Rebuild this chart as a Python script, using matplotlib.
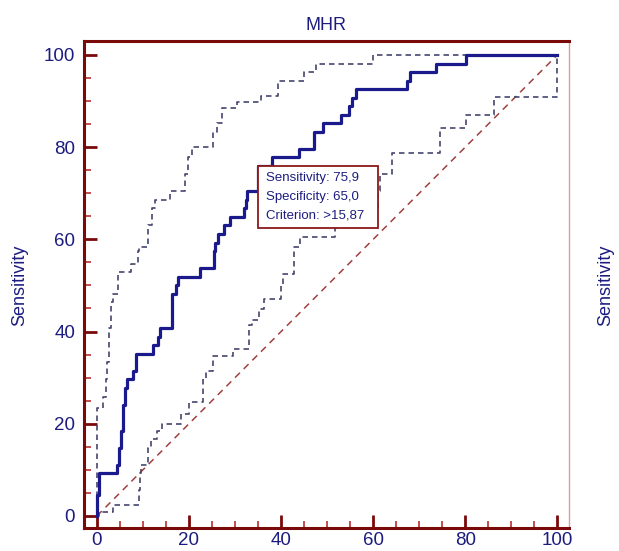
import matplotlib
matplotlib.use("Agg")
import matplotlib.pyplot as plt
from matplotlib.patches import Rectangle
from matplotlib.transforms import ScaledTranslation
from matplotlib.ticker import MultipleLocator

# ROC curve: 100-Specificity (x) vs Sensitivity (y), corner points of the staircase
roc_x = [0, 0, 0.5, 4.3, 4.8, 5.3, 5.7, 6.1, 6.6, 7.9, 8.4, 12.2, 13.3, 13.7, 16.4,
         17.1, 17.7, 22.5, 25.4, 25.7, 26.2, 27.6, 28.8, 32.0, 32.4, 32.7, 35.0,
         38.0, 43.8, 47.2, 49.1, 53.0, 54.8, 55.3, 56.3, 67.3, 67.9, 73.6, 80.1, 100]
roc_y = [0, 4.6, 9.3, 11.1, 14.8, 18.5, 24.1, 27.8, 29.6, 31.5, 35.2, 37.0, 38.9, 40.7, 48.1,
         50.0, 51.9, 53.7, 57.4, 59.3, 61.1, 63.0, 64.8, 66.7, 68.5, 70.4, 75.9,
         77.8, 79.6, 83.3, 85.2, 87.0, 88.9, 90.7, 92.6, 94.4, 96.3, 98.1, 100, 100]

# upper 95% confidence bound
upper_x = [0, 0, 1.4, 1.9, 2.3, 2.6, 3.0, 3.6, 4.6, 7.5, 8.9, 9.2, 11.2, 11.9, 12.6,
           15.9, 19.1, 19.8, 20.6, 25.2, 26.0, 27.2, 30.4, 35.6, 39.3, 44.9, 47.5, 60.0, 100]
upper_y = [0, 23.4, 25.9, 29.6, 33.3, 40.7, 46.3, 48.1, 52.8, 54.6, 57.4, 58.3, 63.0, 66.7, 68.5,
           70.4, 74.1, 77.8, 80.0, 83.3, 85.2, 88.4, 89.8, 91.1, 94.4, 96.3, 98.1, 100, 100]

# lower 95% confidence bound
lower_x = [0, 0.5, 3.4, 9.1, 9.3, 9.6, 11.1, 11.8, 13.0, 14.1, 18.2, 19.9, 23.1, 23.6, 25.2,
           29.6, 33.1, 33.6, 35.1, 36.2, 39.9, 40.5, 42.8, 44.1, 51.6, 52.5, 56.5, 61.0, 61.5,
           64.0, 74.6, 80.1, 86.2, 100]
lower_y = [0, 0.9, 2.4, 5.6, 9.3, 11.1, 14.8, 16.7, 18.5, 20.0, 22.2, 24.8, 29.6, 31.5, 34.6,
           36.2, 41.4, 42.6, 44.9, 47.1, 50.0, 52.5, 58.4, 60.5, 62.4, 64.8, 66.7, 70.4, 74.1,
           78.8, 84.1, 87.0, 90.8, 100]

diag_x = [0, 100]
diag_y = [0, 100]

sensitivity = 75.9
specificity = 65.0
criterion = ">15,87"

navy = "#1c1c80"
frame_red = "#7a0a0a"

plt.rcParams['font.family'] = ['Liberation Sans', 'DejaVu Sans']

fig = plt.figure(figsize=(6.19, 5.51), dpi=100)
ax = fig.add_axes([83.5 / 619, 1 - 527.5 / 551, (569 - 83.5) / 619, (527.5 - 41) / 551])

ax.plot(diag_x, diag_y, color="#a04040", lw=1.1, dashes=(4.5, 3.5), zorder=2)
ax.step(upper_x, upper_y, where='post', color="#45456e", lw=1.2, dashes=(3.3, 2.4), zorder=3)
ax.step(lower_x, lower_y, where='post', color="#45456e", lw=1.2, dashes=(3.3, 2.4), zorder=3)
ax.step(roc_x, roc_y, where='post', color="#1a1a8c", lw=2.3, zorder=4)

ax.set_xlim(-2.9, 102.5)
ax.set_ylim(-2.5, 103.0)
ax.xaxis.set_major_locator(MultipleLocator(20))
ax.xaxis.set_minor_locator(MultipleLocator(5))
ax.yaxis.set_major_locator(MultipleLocator(20))
ax.yaxis.set_minor_locator(MultipleLocator(5))

ax.tick_params(which='major', direction='in', length=9.5, width=2, color=frame_red,
               labelcolor=navy, labelsize=13.5, pad=6)
ax.tick_params(which='minor', direction='in', length=5, width=1.2, color="#b83030")
ax.tick_params(axis='x', which='both', top=False)
ax.tick_params(axis='x', which='major', pad=3)
ax.tick_params(axis='y', which='both', right=False)

for side in ['left', 'top', 'bottom']:
    ax.spines[side].set_color(frame_red)
    ax.spines[side].set_linewidth(2.2)
ax.spines['right'].set_color("#d8a0a0")
ax.spines['right'].set_linewidth(1)

ax.set_title("MHR", color=navy, fontsize=13, pad=8)
fig.text(19.5 / 619, 1 - 285 / 551, "Sensitivity", rotation=90, ha='center', va='center',
         color=navy, fontsize=13)
fig.text(606 / 619, 1 - 285 / 551, "Sensitivity", rotation=90, ha='center', va='center',
         color=navy, fontsize=13)

# criterion box anchored at the cut-off point
cx, cy = 100 - specificity, sensitivity
box_trans = fig.dpi_scale_trans + ScaledTranslation(cx, cy, ax.transData)
ax.add_patch(Rectangle((0, -0.62), 1.20, 0.62, transform=box_trans, facecolor='white',
                       edgecolor="#8b1a1a", lw=1.3, zorder=6, clip_on=False))
lines = ["Sensitivity: %s" % f"{sensitivity:.1f}".replace('.', ','),
         "Specificity: %s" % f"{specificity:.1f}".replace('.', ','),
         "Criterion: " + criterion]
for i, t in enumerate(lines):
    ax.annotate(t, xy=(cx, cy), xytext=(8, -12.5 - 18.5 * i), textcoords='offset pixels',
                ha='left', va='center', color=navy, fontsize=9.5, zorder=7)

fig.savefig("out.png", dpi=100)
